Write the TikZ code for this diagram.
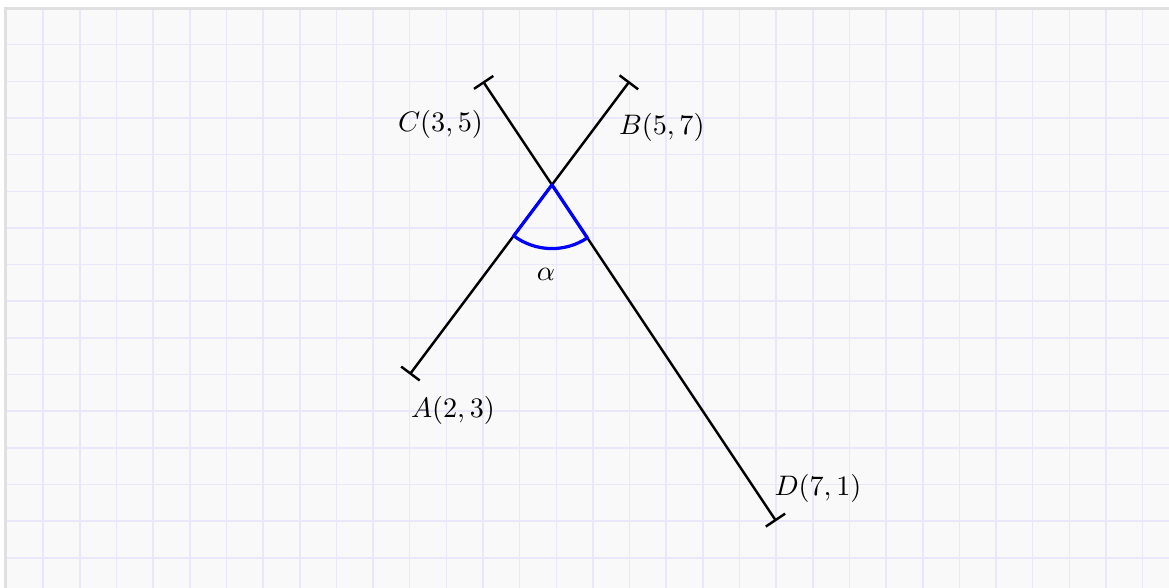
\documentclass[tikz,border=0pt]{standalone}
\usetikzlibrary{arrows.meta,intersections,calc}

\definecolor{gridblue}{RGB}{232,232,250}
\definecolor{paper}{RGB}{249,249,249}
\definecolor{edgegray}{RGB}{224,224,224}

\tikzset{
    seg/.style={line width=0.95pt, arrows={Bar[width=9pt]-Bar[width=9pt]}},
    ptlabel/.style={font=\fontsize{11}{13}\selectfont},
}

\begin{document}
\begin{tikzpicture}
    \useasboundingbox (-3.59,0.09) rectangle (12.36,8.11);

    % paper with a faint grid
    \fill[white] (-3.59,0.09) rectangle (12.36,8.11);
    \fill[paper] (-3.52,0.09) rectangle (12.36,7.99);
    \draw[gridblue, line width=0.6pt, step=0.5] (-3.52,0.09) grid (12.36,7.99);
    \draw[edgegray, line width=1.2pt] (-3.52,0.09) -- (-3.52,7.99) -- (12.36,7.99);

    % end points of the two segments
    \coordinate (A) at (2,3);
    \coordinate (B) at (5,7);
    \coordinate (C) at (3,7);
    \coordinate (D) at (7,1);

    \draw[seg, name path=ab] (A) -- (B);
    \draw[seg, name path=cd] (C) -- (D);
    \path[name intersections={of=ab and cd, by=X}];

    % angle between the lower halves
    \draw[blue, line width=1.25pt, line join=round] (X) -- ($(X)!0.87cm!(A)$)
        arc[start angle=233.13, end angle=303.69, radius=0.87] -- cycle;

    % labels
    \node[ptlabel] (lC) at (2.42,6.41) {$C(3,5)$};
    \node[ptlabel] (lB) at (5.44,6.37) {$B(5,7)$};
    \node[ptlabel] (lA) at (2.59,2.51) {$A(2,3)$};
    \node[ptlabel] (lD) at (7.57,1.44) {$D(7,1)$};
    \node[ptlabel] (alpha) at (3.86,4.36) {$\alpha$};
\end{tikzpicture}
\end{document}
